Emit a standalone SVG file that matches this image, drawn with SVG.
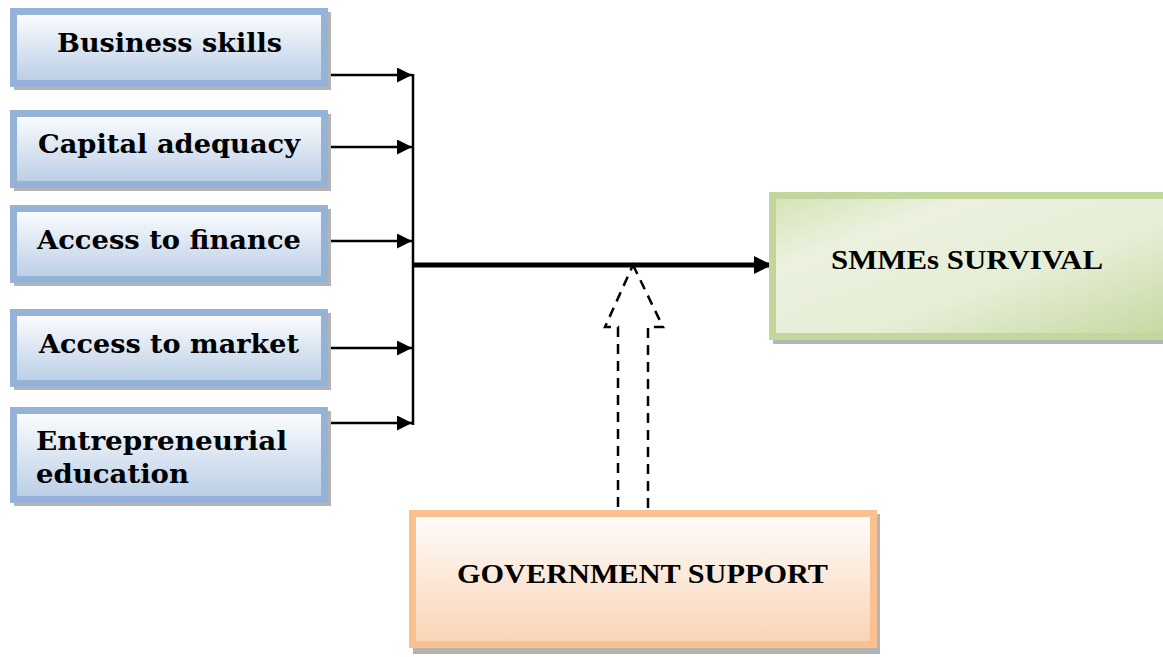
<svg xmlns="http://www.w3.org/2000/svg" width="1163" height="657" viewBox="0 0 1163 657">
<defs>
<linearGradient id="gBlue" x1="0" y1="0" x2="0" y2="1">
<stop offset="0" stop-color="#fdfeff"/>
<stop offset="1" stop-color="#b9cde5"/>
</linearGradient>
<linearGradient id="gGreen" x1="0" y1="0" x2="1" y2="1">
<stop offset="0" stop-color="#d4e3b5"/>
<stop offset="0.25" stop-color="#ebf1de"/>
<stop offset="0.6" stop-color="#e6eed6"/>
<stop offset="1" stop-color="#c6d8a0"/>
</linearGradient>
<linearGradient id="gOrange" x1="0" y1="0" x2="0" y2="1">
<stop offset="0" stop-color="#fffdfc"/>
<stop offset="1" stop-color="#f9d3b4"/>
</linearGradient>
<marker id="arr" viewBox="0 0 10 10" refX="10" refY="5" markerWidth="6" markerHeight="6" markerUnits="strokeWidth" orient="auto">
<path d="M0,0 L10,5 L0,10 z" fill="#000"/>
</marker>
<marker id="arrBig" viewBox="0 0 10 10" refX="10" refY="5" markerWidth="3.6" markerHeight="3.6" markerUnits="strokeWidth" orient="auto">
<path d="M0,0 L10,5 L0,10 z" fill="#000"/>
</marker>
</defs>
<style>
.shadow{fill:#b4b4b4;}
.blue{fill:url(#gBlue);stroke:#95b3d7;stroke-width:7;}
.green{fill:url(#gGreen);stroke:#c3d69b;stroke-width:7;}
.orange{fill:url(#gOrange);stroke:#fac090;stroke-width:7;}
.lbl{font-family:Georgia,"DejaVu Serif",serif;font-weight:bold;font-size:26px;fill:#000;}
.lbl2{font-family:"Liberation Serif","Times New Roman",serif;font-weight:bold;font-size:28px;fill:#000;}
.thin{stroke:#000;stroke-width:2.5;fill:none;}
</style>
<g id="connectors">
<line class="thin" x1="413" y1="74" x2="413" y2="425" stroke-width="4"/>
<line class="thin" x1="325" y1="75" x2="412" y2="75" marker-end="url(#arr)"/>
<line class="thin" x1="328" y1="147" x2="412" y2="147" marker-end="url(#arr)"/>
<line class="thin" x1="325" y1="241" x2="412" y2="241" marker-end="url(#arr)"/>
<line class="thin" x1="328" y1="348" x2="412" y2="348" marker-end="url(#arr)"/>
<line class="thin" x1="325" y1="423" x2="412" y2="423" marker-end="url(#arr)"/>
<line x1="413" y1="265" x2="772" y2="265" stroke="#000" stroke-width="5" marker-end="url(#arrBig)"/>
<path d="M633,265 L663,327 L648,327 L648,513 L618,513 L618,327 L605,327 Z" fill="#fff" stroke="#000" stroke-width="2.5" stroke-dasharray="10,7"/>
</g>
<g id="business-skills">
<rect class="shadow" x="14" y="12" width="317" height="78"/>
<rect class="blue" x="13.5" y="11.5" width="311" height="72"/>
<text class="lbl" x="57" y="52" textLength="225" lengthAdjust="spacingAndGlyphs">Business skills</text>
</g>
<g id="capital-adequacy">
<rect class="shadow" x="14" y="114" width="317" height="77"/>
<rect class="blue" x="13.5" y="113.5" width="311" height="71"/>
<text class="lbl" x="38" y="153" textLength="262" lengthAdjust="spacingAndGlyphs">Capital adequacy</text>
</g>
<g id="access-finance">
<rect class="shadow" x="14" y="209" width="317" height="77"/>
<rect class="blue" x="13.5" y="208.5" width="311" height="71"/>
<text class="lbl" x="37" y="249" textLength="264" lengthAdjust="spacingAndGlyphs">Access to finance</text>
</g>
<g id="access-market">
<rect class="shadow" x="14" y="313" width="317" height="77"/>
<rect class="blue" x="13.5" y="312.5" width="311" height="71"/>
<text class="lbl" x="39" y="353" textLength="260" lengthAdjust="spacingAndGlyphs">Access to market</text>
</g>
<g id="entrepreneurial-education">
<rect class="shadow" x="14" y="411" width="317" height="95"/>
<rect class="blue" x="13.5" y="410.5" width="311" height="89"/>
<text class="lbl" x="36" y="450" textLength="251" lengthAdjust="spacingAndGlyphs">Entrepreneurial</text>
<text class="lbl" x="36" y="483" textLength="153" lengthAdjust="spacingAndGlyphs">education</text>
</g>
<g id="smmes-survival">
<rect class="shadow" x="773" y="196" width="395" height="148"/>
<rect class="green" x="772.5" y="195.5" width="395" height="141"/>
<text class="lbl2" x="831" y="269" textLength="272" lengthAdjust="spacingAndGlyphs">SMMEs SURVIVAL</text>
</g>
<g id="government-support">
<rect class="shadow" x="413" y="514" width="467" height="140"/>
<rect class="orange" x="412.5" y="513.5" width="461" height="131"/>
<text class="lbl2" x="457" y="583" textLength="371" lengthAdjust="spacingAndGlyphs">GOVERNMENT SUPPORT</text>
</g>
</svg>
